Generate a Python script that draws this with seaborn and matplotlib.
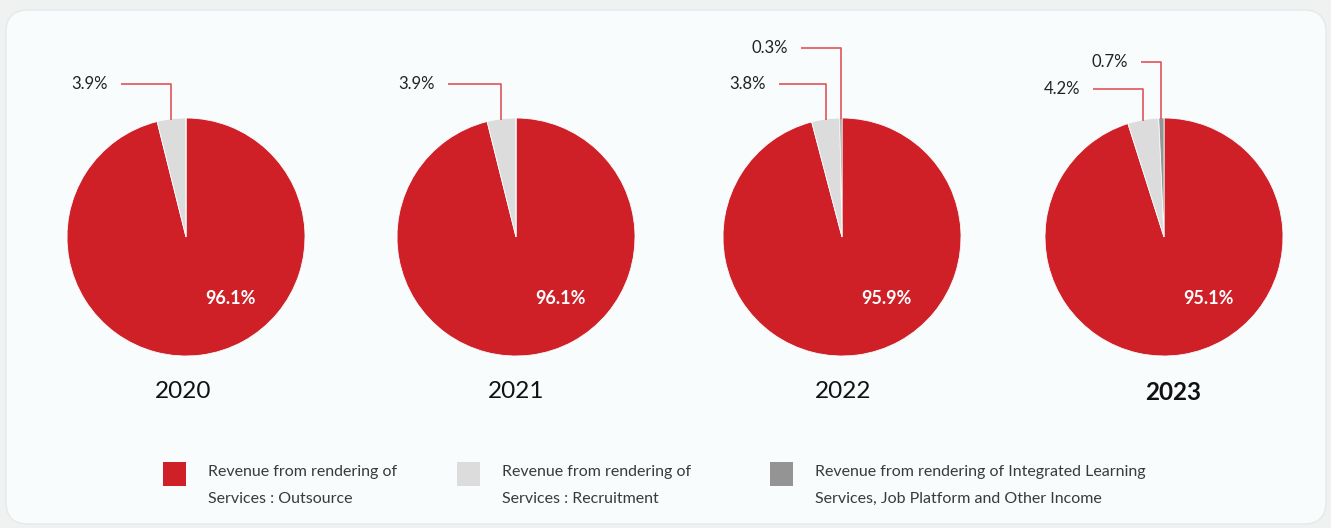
import numpy as np
import matplotlib
matplotlib.use("Agg")
import matplotlib.pyplot as plt
from matplotlib.patches import FancyBboxPatch, Rectangle
import seaborn as sns

# Revenue structure by year (% of total revenue)
years = ["2020", "2021", "2022", "2023"]
outsource = [96.1, 96.1, 95.9, 95.1]
recruitment = [3.9, 3.9, 3.8, 4.2]
other_income = [0.0, 0.0, 0.3, 0.7]
legend_labels = [
    ["Revenue from rendering of", "Services : Outsource"],
    ["Revenue from rendering of", "Services : Recruitment"],
    ["Revenue from rendering of Integrated Learning", "Services, Job Platform and Other Income"],
]

sns.set_theme(style="white")
plt.rcParams["font.family"] = ["Lato", "DejaVu Sans"]

colors = sns.color_palette(["#CF1F27", "#DCDCDC", "#949494"])
leader_color = "#E0555C"
text_color = "#222222"

W, H = 1331, 528
fig = plt.figure(figsize=(W / 100, H / 100), dpi=100)
fig.patch.set_facecolor("#F0F1F1")
ax = fig.add_axes([0, 0, 1, 1])

def Y(y):
    return H - y

# card background
card = FancyBboxPatch((6, Y(524)), 1320, 514,
                      boxstyle="round,pad=0,rounding_size=22",
                      facecolor="#F8FCFD", edgecolor="#E6E9EA", linewidth=1.0, zorder=0)
ax.add_patch(card)

centers_x = [186, 516, 842, 1164]
year_x = [183, 516, 843, 1173]
cy = 237
radius = 119

# small-slice label positions (x, y) per year; None when not shown
rec_label_pos = [(90, 84), (417, 84), (748, 84), (1062, 89)]
oth_label_pos = [None, None, (770, 48), (1110, 62)]

for i, yr in enumerate(years):
    vals = [outsource[i], recruitment[i], other_income[i]]
    cx = centers_x[i]
    wedges, _ = ax.pie(vals, colors=colors, startangle=90, counterclock=False,
                       center=(cx, Y(cy)), radius=radius,
                       wedgeprops=dict(linewidth=0.6, edgecolor="#F8FCFD"))
    # inner value label for the main slice
    ax.text(cx + 44, Y(cy + 61), f"{outsource[i]:.1f}%", color="white",
            fontsize=13, fontweight="bold", ha="center", va="center", zorder=5)
    # year caption
    ax.text(year_x[i], Y(392), yr, color="#111111", fontsize=17.5,
            fontweight="bold" if yr == "2023" else "normal",
            ha="center", va="center")

    # leader lines for the small slices
    for val, pos, w in ((recruitment[i], rec_label_pos[i], wedges[1]),
                        (other_income[i], oth_label_pos[i], wedges[2])):
        if pos is None or val == 0:
            continue
        mid = np.deg2rad((w.theta1 + w.theta2) / 2)
        ex = cx + radius * np.cos(mid)
        ey = Y(cy) + radius * np.sin(mid)
        lx, ly = pos
        ax.text(lx, Y(ly), f"{val:.1f}%", color=text_color, fontsize=12,
                ha="center", va="center")
        ax.plot([lx + 31, ex, ex], [Y(ly), Y(ly), ey - 1], color=leader_color,
                linewidth=1.2, solid_capstyle="butt", zorder=4)

# legend
legend_x = [163, 457, 770]
for lx, lines, col in zip(legend_x, legend_labels, colors):
    ax.add_patch(Rectangle((lx, Y(486)), 23, 24, facecolor=col, edgecolor="none"))
    for k, line in enumerate(lines):
        ax.text(lx + 45, Y(472 + 27 * k), line, color="#3A3A3A", fontsize=11.5,
                ha="left", va="center")

ax.set_xlim(0, W)
ax.set_ylim(0, H)
ax.set_aspect("equal")
ax.axis("off")

fig.savefig("out.png", dpi=100, facecolor=fig.get_facecolor())
